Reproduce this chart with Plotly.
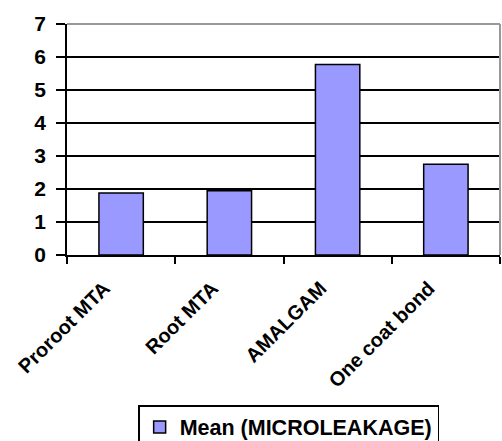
import plotly.graph_objects as go

categories = ["Proroot MTA", "Root MTA", "AMALGAM", "One coat bond"]
mean_values = [1.88, 1.95, 5.77, 2.75]
series_name = "Mean (MICROLEAKAGE)"
y_ticks = [0, 1, 2, 3, 4, 5, 6, 7]

fig = go.Figure()
fig.add_trace(go.Bar(
    x=categories, y=mean_values, name=series_name,
    marker=dict(color="#9999FF", line=dict(color="black", width=1.5)),
    showlegend=True,
))

fig.update_layout(
    width=502, height=441,
    margin=dict(l=67, r=2, t=24, b=186),
    paper_bgcolor="white", plot_bgcolor="white",
    font=dict(family="Liberation Sans, Arial", color="black"),
    bargap=0.59,
    showlegend=True,
    legend=dict(
        orientation="h", x=0.575, xref="container", xanchor="center",
        y=1 - 405 / 441, yref="container", yanchor="top",
        bordercolor="black", borderwidth=1.5,
        font=dict(size=21.5, weight="bold"),
    ),
    xaxis=dict(
        type="category", tickson="boundaries", ticks="outside", ticklen=7,
        tickwidth=1.5, tickcolor="black",
        tickmode="array", tickvals=categories,
        ticktext=[f"<b>{c}</b>" for c in categories],
        showline=True, linecolor="black", linewidth=1.5,
        tickangle=-45, tickfont=dict(size=20),
        ticklabelstandoff=12, ticklabelshift=-17,
        showgrid=False, automargin=False,
    ),
    yaxis=dict(
        range=[0, 7], tickvals=y_ticks,
        ticktext=[f"<b>{v}</b>" for v in y_ticks],
        ticks="outside", ticklen=9,
        tickwidth=1.5, tickcolor="black",
        showline=True, linecolor="black", linewidth=1.5,
        showgrid=True, gridcolor="black", gridwidth=1.5,
        tickfont=dict(size=21), zeroline=False, automargin=False,
        ticklabelstandoff=6,
    ),
    shapes=[
        dict(type="line", xref="paper", yref="paper", x0=0, x1=1, y0=1, y1=1,
             line=dict(color="#999999", width=2), layer="above"),
        dict(type="line", xref="paper", yref="paper", x0=1, x1=1, y0=0, y1=1,
             line=dict(color="#999999", width=2), layer="above"),
    ],
)

fig.write_html(
    "out.html",
    config={"displayModeBar": False},
    post_script="document.body.style.margin='0';document.body.style.overflow='hidden';",
)
